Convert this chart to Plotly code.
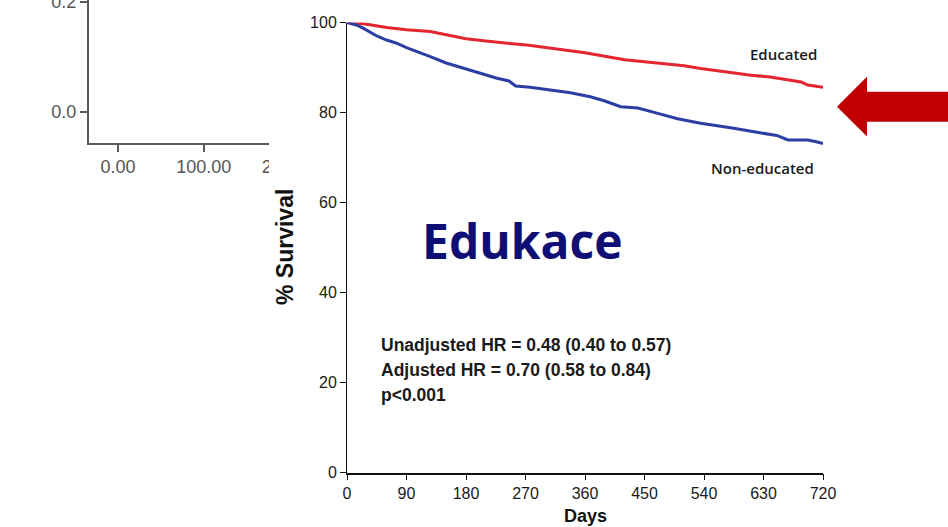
import plotly.graph_objects as go

W, H = 948, 527

# Kaplan-Meier survival (%) by education, read at selected days
educated_days = [0, 25, 60, 90, 126, 150, 180, 210, 227, 250, 272, 300, 330, 360, 390,
                 420, 450, 480, 510, 535, 570, 611, 640, 660, 687, 697, 720]
educated_surv = [100, 99.7, 98.9, 98.4, 98.0, 97.3, 96.4, 95.9, 95.7, 95.3, 95.0, 94.5,
                 93.9, 93.3, 92.5, 91.7, 91.3, 90.9, 90.4, 89.8, 89.1, 88.3, 87.9, 87.4,
                 86.8, 86.1, 85.6]

noneducated_days = [0, 15, 25, 45, 60, 75, 90, 110, 126, 150, 176, 200, 227, 245, 255,
                    277, 310, 338, 368, 389, 414, 440, 470, 500, 535, 560, 585, 620,
                    650, 667, 697, 710, 720]
noneducated_surv = [100, 99.4, 98.7, 97.0, 96.1, 95.4, 94.4, 93.2, 92.4, 91.0, 89.8,
                    88.8, 87.6, 87.0, 85.9, 85.6, 85.0, 84.4, 83.5, 82.6, 81.3, 81.0,
                    79.8, 78.6, 77.6, 77.1, 76.5, 75.6, 74.9, 73.9, 73.9, 73.5, 73.1]

x_ticks = [0, 90, 180, 270, 360, 450, 540, 630, 720]
y_ticks = [0, 20, 40, 60, 80, 100]

# partially visible neighbouring panel
side_x_ticks = [0, 100, 200]
side_x_labels = ["0.00", "100.00", "200.00"]
side_y_ticks = [0.0, 0.2]
side_y_labels = ["0.0", "0.2"]

hr_lines = ["Unadjusted HR = 0.48 (0.40 to 0.57)",
            "Adjusted HR = 0.70 (0.58 to 0.84)",
            "p<0.001"]


def px(x):
    return x / W


def py(y):
    return 1 - y / H


fig = go.Figure()

fig.add_trace(go.Scatter(x=educated_days, y=educated_surv, mode="lines",
                         line=dict(color="#e3262f", width=3), name="Educated",
                         xaxis="x", yaxis="y"))
fig.add_trace(go.Scatter(x=noneducated_days, y=noneducated_surv, mode="lines",
                         line=dict(color="#2c3ea3", width=3), name="Non-educated",
                         xaxis="x", yaxis="y"))
# empty trace so the side panel axes are drawn
fig.add_trace(go.Scatter(x=[None], y=[None], xaxis="x2", yaxis="y2",
                         showlegend=False))

tick_font = dict(family="Arial", size=16, color="#1a1a1a")
side_font = dict(family="Arial", size=18, color="#555555")

fig.update_layout(
    width=W, height=H,
    margin=dict(l=0, r=0, t=0, b=0, autoexpand=False),
    paper_bgcolor="white", plot_bgcolor="white",
    showlegend=False,
    xaxis=dict(domain=[px(347), px(823)], range=[0, 720], tickvals=x_ticks,
               showgrid=False, zeroline=False, showline=True, linecolor="#111",
               linewidth=1.5, ticks="outside", ticklen=6, tickcolor="#111",
               tickfont=tick_font, anchor="y", automargin=False),
    yaxis=dict(domain=[py(472.5), py(22.5)], range=[0, 100], tickvals=y_ticks,
               showgrid=False, zeroline=False, showline=True, linecolor="#111",
               linewidth=1, ticks="outside", ticklen=6, tickcolor="#111",
               tickfont=tick_font, anchor="x", automargin=False),
    xaxis2=dict(domain=[px(89), px(300)], range=[-33.8, (300 - 118) / 0.857],
                tickvals=side_x_ticks, ticktext=side_x_labels,
                showgrid=False, zeroline=False, showline=True, linecolor="#5a5a5a",
                linewidth=2, ticks="outside", ticklen=7, tickwidth=2,
                tickcolor="#5a5a5a", tickfont=side_font, anchor="y2",
                automargin=False, ticklabeloverflow="allow"),
    yaxis2=dict(domain=[py(142.7), 1], range=[-0.0564, 0.2031],
                tickvals=side_y_ticks, ticktext=side_y_labels,
                showgrid=False, zeroline=False, showline=True, linecolor="#5a5a5a",
                linewidth=2, ticks="outside", ticklen=7, tickwidth=2,
                tickcolor="#5a5a5a", tickfont=side_font, anchor="x2",
                automargin=False, ticklabeloverflow="allow"),
)

# the neighbouring panel is cut off where the survival figure starts
fig.add_shape(type="rect", xref="paper", yref="paper",
              x0=px(269), x1=px(325), y0=py(180), y1=py(136),
              fillcolor="white", line=dict(width=0), layer="above")

# big red arrow pointing at the curves
arrow = [(837, 106.7), (867, 76.7), (867, 91.7), (948, 91.7),
         (948, 121.7), (867, 121.7), (867, 136.5)]
path = "M " + " L ".join(f"{px(a):.5f},{py(b):.5f}" for a, b in arrow) + " Z"
fig.add_shape(type="path", xref="paper", yref="paper", path=path,
              fillcolor="#c00000", line=dict(width=0), layer="above")

annotations = [
    dict(text="% Survival", x=px(285), y=py(247), textangle=-90,
         font=dict(family="Arial", size=23, color="#111", weight="bold")),
    dict(text="Days", x=px(585), y=py(516),
         font=dict(family="Arial", size=18, color="#111", weight="bold")),
    dict(text="Educated", x=px(783), y=py(54),
         font=dict(family="Open Sans", size=15, color="#1a1a1a", weight=600)),
    dict(text="Non-educated", x=px(762.5), y=py(168),
         font=dict(family="Open Sans", size=15, color="#1a1a1a", weight=600)),
    dict(text="Edukace", x=px(522), y=py(241),
         font=dict(family="Open Sans", size=48, color="#0f0e74", weight="bold")),
]
for i, line in enumerate(hr_lines):
    annotations.append(dict(text=line, x=px(379), y=py(345 + 25 * i), xanchor="left",
                            font=dict(family="Arial", size=17.5, color="#1a1a1a",
                                      weight="bold")))
for a in annotations:
    a.setdefault("xanchor", "center")
    a.update(xref="paper", yref="paper", showarrow=False, yanchor="middle")
fig.update_layout(annotations=annotations)

fig.write_html("out.html")
